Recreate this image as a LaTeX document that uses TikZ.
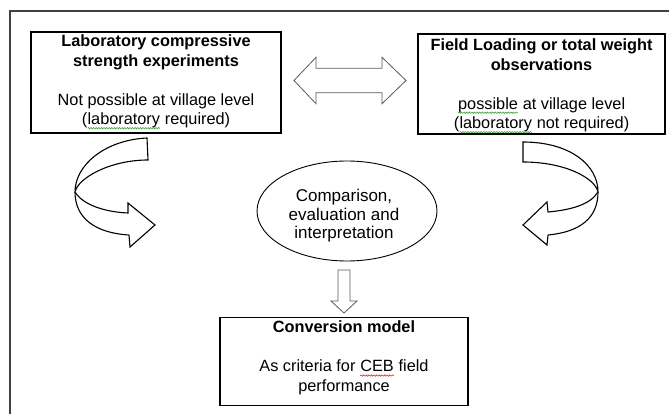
\documentclass[tikz,border=0pt]{standalone}
\usepackage{fontspec}
\setmainfont{Liberation Sans}
\usetikzlibrary{decorations.pathmorphing}
\definecolor{spellred}{RGB}{220,40,40}
\definecolor{spellgreen}{RGB}{60,160,60}
\newcommand\sqg[2]{\tikz[baseline=(sq.base),x=1pt,y=1pt]{\node[inner sep=0pt,outer sep=0pt] (sq) {#2};
  \draw[#1, line width=0.6pt, decorate, decoration={snake, amplitude=0.7pt, segment length=2.6pt}]
  ([yshift=-1.2pt]sq.base west) ++(0,-2.4pt) -- ([yshift=-3.6pt]sq.base east);}}
\begin{document}
\begin{tikzpicture}[x=1pt,y=-1pt,
  box/.style={draw, line width=1.1pt, inner sep=0pt},
  txt/.style={align=center, inner sep=0pt, font=\fontsize{16.3}{19.5}\selectfont},
  blockarrow/.style={draw=black!65, line width=0.8pt, line join=miter},
  ribbon/.style={draw, line width=1.1pt, line join=miter},
  frame/.style={draw=black!75, line width=1.3pt}]
\useasboundingbox (0,0) rectangle (669,414);
% outer frame (only top and left edges visible)
\coordinate (f1) at (10,414);
\coordinate (f2) at (10,11);
\coordinate (f3) at (669,11);
\draw[frame] (f1) -- (f2) -- (f3);

% left box
\node[box, minimum width=250pt, minimum height=101pt] (lab) at (156,82.5) {};
\node[txt] (labt) at (156,82) {\textbf{Laboratory compressive}\\\textbf{strength experiments}\\[19.5pt]Not possible at village level\\(\sqg{spellgreen}{laboratory} required)};

% right box
\node[box, minimum width=247pt, minimum height=100pt] (field) at (541.5,84) {};
\node[txt] (fieldt) at (541.5,86) {\textbf{Field Loading or total weight}\\\textbf{observations}\\[19.5pt]\sqg{spellgreen}{possible} at village level\\(\sqg{spellgreen}{laboratory} not required)};

% ellipse
\draw[line width=0.9pt] (347,211) ellipse [x radius=90, y radius=50];
\node[txt, font=\fontsize{17}{18.5}\selectfont] (cmp) at (344,216) {Comparison,\\evaluation and\\interpretation};

% bottom box
\node[box, minimum width=248pt, minimum height=88pt] (conv) at (344,361.5) {};
\node[txt] (convt) at (344,358) {\textbf{Conversion model}\\[19.5pt]As criteria for \sqg{spellred}{CEB} field\\performance};

% double arrow
\draw[blockarrow] (294,80.5) -- (316,57.3) -- (316,68.3) -- (382,68.3) -- (382,57.3)
  -- (406,80.5) -- (382,103.7) -- (382,92.7) -- (316,92.7) -- (316,103.7) -- cycle;

% down arrow
\draw[blockarrow] (338,270) -- (350,270) -- (350,301) -- (357,301) -- (344,313)
  -- (331,301) -- (338,301) -- cycle;

% left curved arrow
\draw[ribbon] (129,235) .. controls (95,233) and (75,218) .. (75,192)
  .. controls (75,165) and (105,140) .. (147,138) -- (148,160)
  .. controls (110,160) and (78,178) .. (75,192);
\draw[ribbon] (75,192) .. controls (83,205) and (105,212) .. (128,213)
  -- (128,203) -- (155,225) -- (130,247) -- (129,235);

% right curved arrow
\draw[ribbon] (548,235) .. controls (580,232) and (598,218) .. (598,192)
  .. controls (598,165) and (570,142) .. (523,142) -- (523,162)
  .. controls (565,162) and (595,178) .. (598,192);
\draw[ribbon] (598,192) .. controls (590,205) and (570,210) .. (548,212)
  -- (547,202) -- (523,225) -- (547,245) -- (548,235);
\end{tikzpicture}
\end{document}
